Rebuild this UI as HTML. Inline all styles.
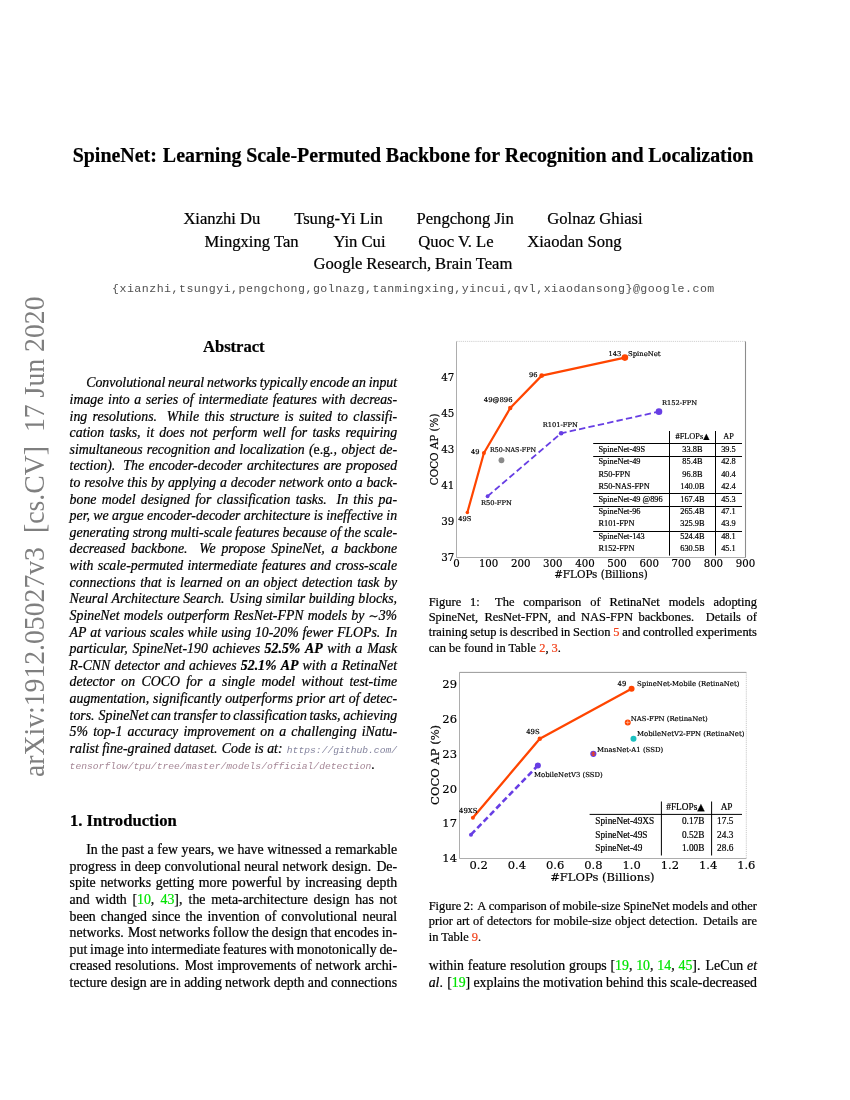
<!DOCTYPE html>
<html lang="en"><head><meta charset="utf-8"><title>SpineNet: Learning Scale-Permuted Backbone for Recognition and Localization</title>
<style>
html,body{margin:0;padding:0;background:#fff;}
body{width:850px;height:1100px;position:relative;overflow:hidden;font-family:"Liberation Serif","Times New Roman",serif;color:#000;}
.l{position:absolute;white-space:pre;line-height:20px;height:20px;font-kerning:normal;-webkit-text-stroke:0.22px currentColor;}
.mono{font-family:"Liberation Mono","Courier New",monospace;-webkit-text-stroke:0;}
.up{font-style:normal;}
.url{-webkit-text-stroke:0;font-family:"Liberation Mono","Courier New",monospace;font-size:9.69px;font-style:italic;color:#85859f;}
.url2{color:#a58796;}
.sim{font-family:"DejaVu Serif",serif;font-style:normal;font-size:12px;}
.g{color:#00e400;}
.r{color:#f2401a;}
.side{position:absolute;left:0;top:0;transform-origin:0 0;white-space:pre;color:#7f7f7f;font-size:27.7px;line-height:30px;}
svg{position:absolute;left:0;top:0;}
svg text{white-space:pre;}
</style></head>
<body>
<div class="l" style="left:72.70px;top:144.80px;font-size:19.93px;font-weight:bold">SpineNet:<span style="word-spacing:1.066px"> </span>Learning<span style="word-spacing:-0.285px"> </span>Scale-Permuted<span style="word-spacing:-0.285px"> </span>Backbone<span style="word-spacing:-0.285px"> </span>for<span style="word-spacing:-0.285px"> </span>Recognition<span style="word-spacing:-0.285px"> </span>and<span style="word-spacing:-0.285px"> </span>Localization</div>
<div class="l" style="left:183.40px;top:208.80px;font-size:16.60px;">Xianzhi Du</div>
<div class="l" style="left:294.20px;top:208.80px;font-size:16.60px;">Tsung-Yi Lin</div>
<div class="l" style="left:416.50px;top:208.80px;font-size:16.60px;">Pengchong Jin</div>
<div class="l" style="left:547.30px;top:208.80px;font-size:16.60px;">Golnaz Ghiasi</div>
<div class="l" style="left:204.60px;top:231.60px;font-size:16.60px;">Mingxing Tan</div>
<div class="l" style="left:333.40px;top:231.60px;font-size:16.60px;">Yin Cui</div>
<div class="l" style="left:418.20px;top:231.60px;font-size:16.60px;">Quoc V. Le</div>
<div class="l" style="left:527.20px;top:231.60px;font-size:16.60px;">Xiaodan Song</div>
<div class="l" style="left:313.60px;top:254.40px;font-size:16.60px;">Google<span style="word-spacing:-0.359px"> </span>Research,<span style="word-spacing:-0.287px"> </span>Brain<span style="word-spacing:-0.359px"> </span>Team</div>
<div class="l mono" style="left:112.00px;top:278.70px;font-size:11.60px;letter-spacing:0.4845px;color:#505050">{xianzhi,tsungyi,pengchong,golnazg,tanmingxing,yincui,qvl,xiaodansong}@google.com</div>
<div class="l" style="left:203.00px;top:337.20px;font-size:16.60px;letter-spacing:-0.0318px;font-weight:bold">Abstract</div>
<div class="l" style="left:86.20px;top:373.45px;font-size:13.84px;font-style:italic">Convolutional<span style="word-spacing:-0.687px"> </span>neural<span style="word-spacing:-0.687px"> </span>networks<span style="word-spacing:-0.687px"> </span>typically<span style="word-spacing:-0.687px"> </span>encode<span style="word-spacing:-0.687px"> </span>an<span style="word-spacing:-0.687px"> </span>input</div>
<div class="l" style="left:69.60px;top:390.05px;font-size:13.84px;font-style:italic">image<span style="word-spacing:1.201px"> </span>into<span style="word-spacing:1.201px"> </span>a<span style="word-spacing:1.201px"> </span>series<span style="word-spacing:1.201px"> </span>of<span style="word-spacing:1.201px"> </span>intermediate<span style="word-spacing:1.201px"> </span>features<span style="word-spacing:1.201px"> </span>with<span style="word-spacing:1.201px"> </span>decreas-</div>
<div class="l" style="left:69.60px;top:406.66px;font-size:13.84px;font-style:italic">ing<span style="word-spacing:1.831px"> </span>resolutions.<span style="word-spacing:6.369px"> </span>While<span style="word-spacing:1.831px"> </span>this<span style="word-spacing:1.831px"> </span>structure<span style="word-spacing:1.831px"> </span>is<span style="word-spacing:1.831px"> </span>suited<span style="word-spacing:1.831px"> </span>to<span style="word-spacing:1.831px"> </span>classifi-</div>
<div class="l" style="left:69.60px;top:423.26px;font-size:13.84px;font-style:italic">cation<span style="word-spacing:1.815px"> </span>tasks,<span style="word-spacing:2.276px"> </span>it<span style="word-spacing:1.815px"> </span>does<span style="word-spacing:1.815px"> </span>not<span style="word-spacing:1.815px"> </span>perform<span style="word-spacing:1.815px"> </span>well<span style="word-spacing:1.815px"> </span>for<span style="word-spacing:1.815px"> </span>tasks<span style="word-spacing:1.815px"> </span>requiring</div>
<div class="l" style="left:69.60px;top:439.87px;font-size:13.84px;font-style:italic">simultaneous<span style="word-spacing:0.781px"> </span>recognition<span style="word-spacing:0.781px"> </span>and<span style="word-spacing:0.781px"> </span>localization<span style="word-spacing:0.781px"> </span>(<span class="up">e.g</span>.,<span style="word-spacing:0.985px"> </span>object<span style="word-spacing:0.781px"> </span>de-</div>
<div class="l" style="left:69.60px;top:456.47px;font-size:13.84px;font-style:italic">tection).<span style="word-spacing:4.579px"> </span>The<span style="word-spacing:1.230px"> </span>encoder-decoder<span style="word-spacing:1.230px"> </span>architectures<span style="word-spacing:1.230px"> </span>are<span style="word-spacing:1.230px"> </span>proposed</div>
<div class="l" style="left:69.60px;top:473.07px;font-size:13.84px;font-style:italic">to<span style="word-spacing:0.294px"> </span>resolve<span style="word-spacing:0.294px"> </span>this<span style="word-spacing:0.294px"> </span>by<span style="word-spacing:0.294px"> </span>applying<span style="word-spacing:0.294px"> </span>a<span style="word-spacing:0.294px"> </span>decoder<span style="word-spacing:0.294px"> </span>network<span style="word-spacing:0.294px"> </span>onto<span style="word-spacing:0.294px"> </span>a<span style="word-spacing:0.294px"> </span>back-</div>
<div class="l" style="left:69.60px;top:489.68px;font-size:13.84px;font-style:italic">bone<span style="word-spacing:1.801px"> </span>model<span style="word-spacing:1.801px"> </span>designed<span style="word-spacing:1.801px"> </span>for<span style="word-spacing:1.801px"> </span>classification<span style="word-spacing:1.801px"> </span>tasks.<span style="word-spacing:6.314px"> </span>In<span style="word-spacing:1.801px"> </span>this<span style="word-spacing:1.801px"> </span>pa-</div>
<div class="l" style="left:69.60px;top:506.28px;font-size:13.84px;font-style:italic">per,<span style="word-spacing:-0.119px"> </span>we<span style="word-spacing:-0.149px"> </span>argue<span style="word-spacing:-0.149px"> </span>encoder-decoder<span style="word-spacing:-0.149px"> </span>architecture<span style="word-spacing:-0.149px"> </span>is<span style="word-spacing:-0.149px"> </span>ineffective<span style="word-spacing:-0.149px"> </span>in</div>
<div class="l" style="left:69.60px;top:522.89px;font-size:13.84px;font-style:italic">generating<span style="word-spacing:-0.321px"> </span>strong<span style="word-spacing:-0.321px"> </span>multi-scale<span style="word-spacing:-0.321px"> </span>features<span style="word-spacing:-0.321px"> </span>because<span style="word-spacing:-0.321px"> </span>of<span style="word-spacing:-0.321px"> </span>the<span style="word-spacing:-0.321px"> </span>scale-</div>
<div class="l" style="left:69.60px;top:539.49px;font-size:13.84px;font-style:italic">decreased<span style="word-spacing:2.431px"> </span>backbone.<span style="word-spacing:8.195px"> </span>We<span style="word-spacing:2.431px"> </span>propose<span style="word-spacing:2.431px"> </span>SpineNet,<span style="word-spacing:3.051px"> </span>a<span style="word-spacing:2.431px"> </span>backbone</div>
<div class="l" style="left:69.60px;top:556.09px;font-size:13.84px;font-style:italic">with<span style="word-spacing:0.941px"> </span>scale-permuted<span style="word-spacing:0.941px"> </span>intermediate<span style="word-spacing:0.941px"> </span>features<span style="word-spacing:0.941px"> </span>and<span style="word-spacing:0.941px"> </span>cross-scale</div>
<div class="l" style="left:69.60px;top:572.70px;font-size:13.84px;font-style:italic">connections<span style="word-spacing:1.080px"> </span>that<span style="word-spacing:1.080px"> </span>is<span style="word-spacing:1.080px"> </span>learned<span style="word-spacing:1.080px"> </span>on<span style="word-spacing:1.080px"> </span>an<span style="word-spacing:1.080px"> </span>object<span style="word-spacing:1.080px"> </span>detection<span style="word-spacing:1.080px"> </span>task<span style="word-spacing:1.080px"> </span>by</div>
<div class="l" style="left:69.60px;top:589.30px;font-size:13.84px;font-style:italic">Neural<span style="word-spacing:0.082px"> </span>Architecture<span style="word-spacing:0.082px"> </span>Search.<span style="word-spacing:1.263px"> </span>Using<span style="word-spacing:0.082px"> </span>similar<span style="word-spacing:0.082px"> </span>building<span style="word-spacing:0.082px"> </span>blocks,</div>
<div class="l" style="left:69.60px;top:605.91px;font-size:13.84px;font-style:italic">SpineNet<span style="word-spacing:0.786px"> </span>models<span style="word-spacing:0.786px"> </span>outperform<span style="word-spacing:0.786px"> </span>ResNet-FPN<span style="word-spacing:0.786px"> </span>models<span style="word-spacing:0.786px"> </span>by<span style="word-spacing:0.786px"> </span><span class="sim">&sim;</span>3%</div>
<div class="l" style="left:69.60px;top:622.51px;font-size:13.84px;font-style:italic">AP<span style="word-spacing:0.274px"> </span>at<span style="word-spacing:0.274px"> </span>various<span style="word-spacing:0.274px"> </span>scales<span style="word-spacing:0.274px"> </span>while<span style="word-spacing:0.274px"> </span>using<span style="word-spacing:0.274px"> </span>10-20%<span style="word-spacing:0.274px"> </span>fewer<span style="word-spacing:0.274px"> </span>FLOPs.<span style="word-spacing:1.774px"> </span>In</div>
<div class="l" style="left:69.60px;top:639.11px;font-size:13.84px;font-style:italic">particular,<span style="word-spacing:1.453px"> </span>SpineNet-190<span style="word-spacing:1.130px"> </span>achieves<span style="word-spacing:1.130px"> </span><b>52.5%<span style="word-spacing:1.130px"> </span>AP</b><span style="word-spacing:1.130px"> </span>with<span style="word-spacing:1.130px"> </span>a<span style="word-spacing:1.130px"> </span>Mask</div>
<div class="l" style="left:69.60px;top:655.72px;font-size:13.84px;font-style:italic">R-CNN<span style="word-spacing:0.742px"> </span>detector<span style="word-spacing:0.742px"> </span>and<span style="word-spacing:0.742px"> </span>achieves<span style="word-spacing:0.742px"> </span><b>52.1%<span style="word-spacing:0.742px"> </span>AP</b><span style="word-spacing:0.742px"> </span>with<span style="word-spacing:0.742px"> </span>a<span style="word-spacing:0.742px"> </span>RetinaNet</div>
<div class="l" style="left:69.60px;top:672.32px;font-size:13.84px;font-style:italic">detector<span style="word-spacing:2.898px"> </span>on<span style="word-spacing:2.898px"> </span>COCO<span style="word-spacing:2.898px"> </span>for<span style="word-spacing:2.898px"> </span>a<span style="word-spacing:2.898px"> </span>single<span style="word-spacing:2.898px"> </span>model<span style="word-spacing:2.898px"> </span>without<span style="word-spacing:2.898px"> </span>test-time</div>
<div class="l" style="left:69.60px;top:688.93px;font-size:13.84px;font-style:italic">augmentation,<span style="word-spacing:0.421px"> </span>significantly<span style="word-spacing:0.331px"> </span>outperforms<span style="word-spacing:0.331px"> </span>prior<span style="word-spacing:0.331px"> </span>art<span style="word-spacing:0.331px"> </span>of<span style="word-spacing:0.331px"> </span>detec-</div>
<div class="l" style="left:69.60px;top:705.53px;font-size:13.84px;font-style:italic">tors.<span style="word-spacing:0.532px"> </span>SpineNet<span style="word-spacing:-0.935px"> </span>can<span style="word-spacing:-0.935px"> </span>transfer<span style="word-spacing:-0.935px"> </span>to<span style="word-spacing:-0.935px"> </span>classification<span style="word-spacing:-0.935px"> </span>tasks,<span style="word-spacing:-0.746px"> </span>achieving</div>
<div class="l" style="left:69.60px;top:722.13px;font-size:13.84px;font-style:italic">5%<span style="word-spacing:1.692px"> </span>top-1<span style="word-spacing:1.692px"> </span>accuracy<span style="word-spacing:1.692px"> </span>improvement<span style="word-spacing:1.692px"> </span>on<span style="word-spacing:1.692px"> </span>a<span style="word-spacing:1.692px"> </span>challenging<span style="word-spacing:1.692px"> </span>iNatu-</div>
<div class="l" style="left:69.60px;top:738.74px;font-size:13.84px;font-style:italic">ralist<span style="word-spacing:-0.005px"> </span>fine-grained<span style="word-spacing:-0.005px"> </span>dataset.<span style="word-spacing:0.851px"> </span>Code<span style="word-spacing:-0.005px"> </span>is<span style="word-spacing:-0.005px"> </span>at:<span style="word-spacing:0.840px"> </span><span class="url">https://github.com/</span></div>
<div class="l" style="left:69.60px;top:755.34px;font-size:13.84px;font-style:italic"><span class="url url2">tensorflow/tpu/tree/master/models/official/detection</span>.</div>
<div class="l" style="left:70.00px;top:811.20px;font-size:16.60px;font-weight:bold">1. Introduction</div>
<div class="l" style="left:86.20px;top:840.10px;font-size:13.84px;">In<span style="word-spacing:0.090px"> </span>the<span style="word-spacing:0.090px"> </span>past<span style="word-spacing:0.090px"> </span>a<span style="word-spacing:0.090px"> </span>few<span style="word-spacing:0.090px"> </span>years,<span style="word-spacing:0.121px"> </span>we<span style="word-spacing:0.090px"> </span>have<span style="word-spacing:0.090px"> </span>witnessed<span style="word-spacing:0.090px"> </span>a<span style="word-spacing:0.090px"> </span>remarkable</div>
<div class="l" style="left:69.60px;top:856.70px;font-size:13.84px;">progress<span style="word-spacing:0.265px"> </span>in<span style="word-spacing:0.265px"> </span>deep<span style="word-spacing:0.265px"> </span>convolutional<span style="word-spacing:0.265px"> </span>neural<span style="word-spacing:0.265px"> </span>network<span style="word-spacing:0.265px"> </span>design.<span style="word-spacing:1.677px"> </span>De-</div>
<div class="l" style="left:69.60px;top:873.31px;font-size:13.84px;">spite<span style="word-spacing:1.185px"> </span>networks<span style="word-spacing:1.185px"> </span>getting<span style="word-spacing:1.185px"> </span>more<span style="word-spacing:1.185px"> </span>powerful<span style="word-spacing:1.185px"> </span>by<span style="word-spacing:1.185px"> </span>increasing<span style="word-spacing:1.185px"> </span>depth</div>
<div class="l" style="left:69.60px;top:889.91px;font-size:13.84px;">and<span style="word-spacing:2.194px"> </span>width<span style="word-spacing:2.194px"> </span>[<span class="g">10</span>,<span style="word-spacing:2.747px"> </span><span class="g">43</span>],<span style="word-spacing:2.747px"> </span>the<span style="word-spacing:2.194px"> </span>meta-architecture<span style="word-spacing:2.194px"> </span>design<span style="word-spacing:2.194px"> </span>has<span style="word-spacing:2.194px"> </span>not</div>
<div class="l" style="left:69.60px;top:906.52px;font-size:13.84px;">been<span style="word-spacing:1.618px"> </span>changed<span style="word-spacing:1.618px"> </span>since<span style="word-spacing:1.618px"> </span>the<span style="word-spacing:1.618px"> </span>invention<span style="word-spacing:1.618px"> </span>of<span style="word-spacing:1.618px"> </span>convolutional<span style="word-spacing:1.618px"> </span>neural</div>
<div class="l" style="left:69.60px;top:923.12px;font-size:13.84px;">networks.<span style="word-spacing:0.657px"> </span>Most<span style="word-spacing:-0.569px"> </span>networks<span style="word-spacing:-0.569px"> </span>follow<span style="word-spacing:-0.569px"> </span>the<span style="word-spacing:-0.569px"> </span>design<span style="word-spacing:-0.569px"> </span>that<span style="word-spacing:-0.569px"> </span>encodes<span style="word-spacing:-0.569px"> </span>in-</div>
<div class="l" style="left:69.60px;top:939.72px;font-size:13.84px;">put<span style="word-spacing:-0.681px"> </span>image<span style="word-spacing:-0.681px"> </span>into<span style="word-spacing:-0.681px"> </span>intermediate<span style="word-spacing:-0.681px"> </span>features<span style="word-spacing:-0.681px"> </span>with<span style="word-spacing:-0.681px"> </span>monotonically<span style="word-spacing:-0.681px"> </span>de-</div>
<div class="l" style="left:69.60px;top:956.33px;font-size:13.84px;">creased<span style="word-spacing:0.448px"> </span>resolutions.<span style="word-spacing:2.213px"> </span>Most<span style="word-spacing:0.448px"> </span>improvements<span style="word-spacing:0.448px"> </span>of<span style="word-spacing:0.448px"> </span>network<span style="word-spacing:0.448px"> </span>archi-</div>
<div class="l" style="left:69.60px;top:972.93px;font-size:13.84px;">tecture<span style="word-spacing:-0.166px"> </span>design<span style="word-spacing:-0.166px"> </span>are<span style="word-spacing:-0.166px"> </span>in<span style="word-spacing:-0.166px"> </span>adding<span style="word-spacing:-0.166px"> </span>network<span style="word-spacing:-0.166px"> </span>depth<span style="word-spacing:-0.166px"> </span>and<span style="word-spacing:-0.166px"> </span>connections</div>
<div class="l" style="left:428.70px;top:591.90px;font-size:12.45px;">Figure<span style="word-spacing:5.722px"> </span>1:<span style="word-spacing:12.281px"> </span>The<span style="word-spacing:5.722px"> </span>comparison<span style="word-spacing:5.722px"> </span>of<span style="word-spacing:5.722px"> </span>RetinaNet<span style="word-spacing:5.722px"> </span>models<span style="word-spacing:5.722px"> </span>adopting</div>
<div class="l" style="left:428.70px;top:607.15px;font-size:12.45px;">SpineNet,<span style="word-spacing:3.191px"> </span>ResNet-FPN,<span style="word-spacing:3.191px"> </span>and<span style="word-spacing:2.545px"> </span>NAS-FPN<span style="word-spacing:2.545px"> </span>backbones.<span style="word-spacing:8.441px"> </span>Details<span style="word-spacing:2.545px"> </span>of</div>
<div class="l" style="left:428.70px;top:622.40px;font-size:12.45px;">training<span style="word-spacing:-0.348px"> </span>setup<span style="word-spacing:-0.348px"> </span>is<span style="word-spacing:-0.348px"> </span>described<span style="word-spacing:-0.348px"> </span>in<span style="word-spacing:-0.348px"> </span>Section<span style="word-spacing:-0.348px"> </span><span class="r">5</span><span style="word-spacing:-0.348px"> </span>and<span style="word-spacing:-0.348px"> </span>controlled<span style="word-spacing:-0.348px"> </span>experiments</div>
<div class="l" style="left:428.70px;top:637.65px;font-size:12.45px;">can be found in Table <span class="r">2</span>, <span class="r">3</span>.</div>
<div class="l" style="left:428.70px;top:896.00px;font-size:12.45px;">Figure<span style="word-spacing:-0.459px"> </span>2:<span style="word-spacing:0.525px"> </span>A<span style="word-spacing:-0.459px"> </span>comparison<span style="word-spacing:-0.459px"> </span>of<span style="word-spacing:-0.459px"> </span>mobile-size<span style="word-spacing:-0.459px"> </span>SpineNet<span style="word-spacing:-0.459px"> </span>models<span style="word-spacing:-0.459px"> </span>and<span style="word-spacing:-0.459px"> </span>other</div>
<div class="l" style="left:428.70px;top:911.25px;font-size:12.45px;">prior<span style="word-spacing:0.437px"> </span>art<span style="word-spacing:0.437px"> </span>of<span style="word-spacing:0.437px"> </span>detectors<span style="word-spacing:0.437px"> </span>for<span style="word-spacing:0.437px"> </span>mobile-size<span style="word-spacing:0.437px"> </span>object<span style="word-spacing:0.437px"> </span>detection.<span style="word-spacing:2.123px"> </span>Details<span style="word-spacing:0.437px"> </span>are</div>
<div class="l" style="left:428.70px;top:926.50px;font-size:12.45px;">in Table <span class="r">9</span>.</div>
<div class="l" style="left:428.70px;top:956.20px;font-size:13.84px;">within<span style="word-spacing:0.295px"> </span>feature<span style="word-spacing:0.295px"> </span>resolution<span style="word-spacing:0.295px"> </span>groups<span style="word-spacing:0.295px"> </span>[<span class="g">19</span>,<span style="word-spacing:0.376px"> </span><span class="g">10</span>,<span style="word-spacing:0.376px"> </span><span class="g">14</span>,<span style="word-spacing:0.376px"> </span><span class="g">45</span>].<span style="word-spacing:1.762px"> </span>LeCun<span style="word-spacing:0.295px"> </span><i>et</i></div>
<div class="l" style="left:428.70px;top:972.80px;font-size:13.84px;"><i>al</i>.<span style="word-spacing:0.758px"> </span>[<span class="g">19</span>]<span style="word-spacing:-0.216px"> </span>explains<span style="word-spacing:-0.216px"> </span>the<span style="word-spacing:-0.216px"> </span>motivation<span style="word-spacing:-0.216px"> </span>behind<span style="word-spacing:-0.216px"> </span>this<span style="word-spacing:-0.216px"> </span>scale-decreased</div>
<div class="side" style="left:18.2px;top:776.9px;transform:rotate(-90deg) scaleY(1.067);word-spacing:0.1px;">arXiv:1912.05027v3  [cs.CV]  17 Jun 2020</div>
<svg width="850" height="1100" viewBox="0 0 850 1100">
<style>.dj{font-family:"DejaVu Serif","Liberation Serif",serif;fill:#000;stroke:#000;stroke-width:0.18px;}.tm{font-family:"Liberation Serif","Times New Roman",serif;fill:#000;stroke:#000;stroke-width:0.2px;}</style>
<path d="M456.50 341.40V557.50H745.50" fill="none" stroke="#808080" stroke-width="0.65"/>
<path d="M745.50 341.40V557.50" fill="none" stroke="#8c8c8c" stroke-width="1.1"/>
<path d="M456.50 341.40H745.50" fill="none" stroke="#bdbdbd" stroke-width="0.7" stroke-dasharray="1.2 0.9"/>
<text class="dj" x="454.30" y="561.25" font-size="10.30" text-anchor="end">37</text>
<text class="dj" x="454.30" y="525.23" font-size="10.30" text-anchor="end">39</text>
<text class="dj" x="454.30" y="489.22" font-size="10.30" text-anchor="end">41</text>
<text class="dj" x="454.30" y="453.20" font-size="10.30" text-anchor="end">43</text>
<text class="dj" x="454.30" y="417.18" font-size="10.30" text-anchor="end">45</text>
<text class="dj" x="454.30" y="381.17" font-size="10.30" text-anchor="end">47</text>
<text class="dj" x="456.50" y="566.90" font-size="10.20" text-anchor="middle">0</text>
<text class="dj" x="488.61" y="566.90" font-size="10.20" text-anchor="middle">100</text>
<text class="dj" x="520.72" y="566.90" font-size="10.20" text-anchor="middle">200</text>
<text class="dj" x="552.83" y="566.90" font-size="10.20" text-anchor="middle">300</text>
<text class="dj" x="584.94" y="566.90" font-size="10.20" text-anchor="middle">400</text>
<text class="dj" x="617.06" y="566.90" font-size="10.20" text-anchor="middle">500</text>
<text class="dj" x="649.17" y="566.90" font-size="10.20" text-anchor="middle">600</text>
<text class="dj" x="681.28" y="566.90" font-size="10.20" text-anchor="middle">700</text>
<text class="dj" x="713.39" y="566.90" font-size="10.20" text-anchor="middle">800</text>
<text class="dj" x="745.50" y="566.90" font-size="10.20" text-anchor="middle">900</text>
<text class="dj" x="601.00" y="578.00" font-size="10.35" text-anchor="middle">#FLOPs (Billions)</text>
<text class="dj" font-size="10.35" text-anchor="middle" transform="translate(437.7 449.4) rotate(-90)">COCO AP (%)</text>
<polyline fill="none" stroke="#ff4500" stroke-width="2.2" stroke-linejoin="round" points="467.35,512.48 483.92,453.05 510.25,408.03 541.72,375.62 624.89,357.61"/>
<polyline fill="none" stroke="#673ee4" stroke-width="1.8" stroke-dasharray="6.4 3.2" points="487.58,496.27 561.15,433.24 658.96,411.63"/>
<circle cx="467.35" cy="512.48" r="1.8" fill="#ff4500"/>
<circle cx="483.92" cy="453.05" r="2.0" fill="#ff4500"/>
<circle cx="510.25" cy="408.03" r="2.2" fill="#ff4500"/>
<circle cx="541.72" cy="375.62" r="2.4" fill="#ff4500"/>
<circle cx="624.89" cy="357.61" r="3.3" fill="#ff4500"/>
<circle cx="487.58" cy="496.27" r="1.9" fill="#673ee4"/>
<circle cx="561.15" cy="433.24" r="2.3" fill="#673ee4"/>
<circle cx="658.96" cy="411.63" r="3.3" fill="#673ee4"/>
<circle cx="501.46" cy="460.25" r="2.9" fill="#8a8a8a"/>
<text class="dj" x="608.60" y="355.60" font-size="6.70" text-anchor="start">143</text>
<text class="dj" x="628.00" y="355.60" font-size="6.70" text-anchor="start" textLength="32.6" lengthAdjust="spacingAndGlyphs">SpineNet</text>
<text class="dj" x="529.00" y="376.60" font-size="6.70" text-anchor="start">96</text>
<text class="dj" x="483.80" y="401.70" font-size="6.70" text-anchor="start" textLength="28.8" lengthAdjust="spacingAndGlyphs">49@896</text>
<text class="dj" x="471.00" y="453.60" font-size="6.70" text-anchor="start">49</text>
<text class="dj" x="490.00" y="452.40" font-size="6.70" text-anchor="start" textLength="46.0" lengthAdjust="spacingAndGlyphs">R50-NAS-FPN</text>
<text class="dj" x="542.70" y="427.20" font-size="6.70" text-anchor="start">R101-FPN</text>
<text class="dj" x="662.00" y="405.00" font-size="6.70" text-anchor="start">R152-FPN</text>
<text class="dj" x="481.00" y="504.70" font-size="6.70" text-anchor="start">R50-FPN</text>
<text class="dj" x="458.30" y="520.70" font-size="6.70" text-anchor="start">49S</text>
<g stroke="#000" stroke-width="1" fill="none">
<path d="M593.2 443.5H742"/>
<path d="M593.2 456.5H742"/>
<path d="M593.2 493.5H742"/>
<path d="M593.2 506.5H742"/>
<path d="M593.2 531.5H742"/>
<path d="M669.5 431V555.6"/>
<path d="M715.5 431V555.6"/>
</g>
<text class="tm" x="692.40" y="439.00" font-size="8.30" text-anchor="middle">#FLOPs<tspan font-family="DejaVu Sans" font-size="8">&#9650;</tspan></text>
<text class="tm" x="728.60" y="439.00" font-size="8.30" text-anchor="middle">AP</text>
<text class="tm" x="598.50" y="451.80" font-size="8.30" text-anchor="start">SpineNet-49S</text>
<text class="tm" x="692.40" y="451.80" font-size="8.30" text-anchor="middle">33.8B</text>
<text class="tm" x="728.40" y="451.80" font-size="8.30" text-anchor="middle">39.5</text>
<text class="tm" x="598.50" y="463.90" font-size="8.30" text-anchor="start">SpineNet-49</text>
<text class="tm" x="692.40" y="463.90" font-size="8.30" text-anchor="middle">85.4B</text>
<text class="tm" x="728.40" y="463.90" font-size="8.30" text-anchor="middle">42.8</text>
<text class="tm" x="598.50" y="477.20" font-size="8.30" text-anchor="start">R50-FPN</text>
<text class="tm" x="692.40" y="477.20" font-size="8.30" text-anchor="middle">96.8B</text>
<text class="tm" x="728.40" y="477.20" font-size="8.30" text-anchor="middle">40.4</text>
<text class="tm" x="598.50" y="489.30" font-size="8.30" text-anchor="start">R50-NAS-FPN</text>
<text class="tm" x="692.40" y="489.30" font-size="8.30" text-anchor="middle">140.0B</text>
<text class="tm" x="728.40" y="489.30" font-size="8.30" text-anchor="middle">42.4</text>
<text class="tm" x="598.50" y="502.20" font-size="8.30" text-anchor="start">SpineNet-49 @896</text>
<text class="tm" x="692.40" y="502.20" font-size="8.30" text-anchor="middle">167.4B</text>
<text class="tm" x="728.40" y="502.20" font-size="8.30" text-anchor="middle">45.3</text>
<text class="tm" x="598.50" y="514.00" font-size="8.30" text-anchor="start">SpineNet-96</text>
<text class="tm" x="692.40" y="514.00" font-size="8.30" text-anchor="middle">265.4B</text>
<text class="tm" x="728.40" y="514.00" font-size="8.30" text-anchor="middle">47.1</text>
<text class="tm" x="598.50" y="526.00" font-size="8.30" text-anchor="start">R101-FPN</text>
<text class="tm" x="692.40" y="526.00" font-size="8.30" text-anchor="middle">325.9B</text>
<text class="tm" x="728.40" y="526.00" font-size="8.30" text-anchor="middle">43.9</text>
<text class="tm" x="598.50" y="539.00" font-size="8.30" text-anchor="start">SpineNet-143</text>
<text class="tm" x="692.40" y="539.00" font-size="8.30" text-anchor="middle">524.4B</text>
<text class="tm" x="728.40" y="539.00" font-size="8.30" text-anchor="middle">48.1</text>
<text class="tm" x="598.50" y="551.00" font-size="8.30" text-anchor="start">R152-FPN</text>
<text class="tm" x="692.40" y="551.00" font-size="8.30" text-anchor="middle">630.5B</text>
<text class="tm" x="728.40" y="551.00" font-size="8.30" text-anchor="middle">45.1</text>
<path d="M459.50 672.40V858.50H746.30" fill="none" stroke="#808080" stroke-width="0.65"/>
<path d="M746.30 672.40V858.50" fill="none" stroke="#bdbdbd" stroke-width="0.8" stroke-dasharray="1.2 0.9"/>
<path d="M459.50 672.40H746.30" fill="none" stroke="#8c8c8c" stroke-width="0.9"/>
<text class="dj" x="457.00" y="861.70" font-size="11.50" text-anchor="end">14</text>
<text class="dj" x="457.00" y="827.41" font-size="11.50" text-anchor="end">17</text>
<text class="dj" x="457.00" y="792.51" font-size="11.50" text-anchor="end">20</text>
<text class="dj" x="457.00" y="757.62" font-size="11.50" text-anchor="end">23</text>
<text class="dj" x="457.00" y="722.72" font-size="11.50" text-anchor="end">26</text>
<text class="dj" x="457.00" y="687.83" font-size="11.50" text-anchor="end">29</text>
<text class="dj" x="478.62" y="869.40" font-size="11.50" text-anchor="middle">0.2</text>
<text class="dj" x="516.86" y="869.40" font-size="11.50" text-anchor="middle">0.4</text>
<text class="dj" x="555.10" y="869.40" font-size="11.50" text-anchor="middle">0.6</text>
<text class="dj" x="593.34" y="869.40" font-size="11.50" text-anchor="middle">0.8</text>
<text class="dj" x="631.58" y="869.40" font-size="11.50" text-anchor="middle">1.0</text>
<text class="dj" x="669.82" y="869.40" font-size="11.50" text-anchor="middle">1.2</text>
<text class="dj" x="708.06" y="869.40" font-size="11.50" text-anchor="middle">1.4</text>
<text class="dj" x="746.30" y="869.40" font-size="11.50" text-anchor="middle">1.6</text>
<text class="dj" x="602.40" y="881.00" font-size="11.55" text-anchor="middle">#FLOPs (Billions)</text>
<text class="dj" font-size="11.55" text-anchor="middle" transform="translate(439.0 764.9) rotate(-90)">COCO AP (%)</text>
<polyline fill="none" stroke="#ff4500" stroke-width="2.3" stroke-linejoin="round" points="472.88,817.79 539.80,738.70 631.58,688.68"/>
<polyline fill="none" stroke="#673ee4" stroke-width="2.6" stroke-dasharray="5.9 3.2" points="470.97,834.66 537.89,765.45"/>
<circle cx="472.88" cy="817.79" r="2.0" fill="#ff4500"/>
<circle cx="539.80" cy="738.70" r="2.2" fill="#ff4500"/>
<circle cx="631.58" cy="688.68" r="3.0" fill="#ff4500"/>
<circle cx="470.97" cy="834.66" r="2.0" fill="#673ee4"/>
<circle cx="537.89" cy="765.45" r="3.0" fill="#673ee4"/>
<circle cx="593.34" cy="753.82" r="3.1" fill="#673ee4"/>
<path d="M593.34 751.62v4.4M591.14 753.82h4.4M591.84 752.32h3M591.84 755.32h3" stroke="#ff4500" stroke-width="0.8" fill="none"/>
<circle cx="627.76" cy="722.41" r="3.0" fill="#ff4500"/>
<path d="M627.76 720.41v4M625.76 722.41h4" stroke="#ffc0a8" stroke-width="0.7" fill="none"/>
<circle cx="633.49" cy="738.70" r="3.0" fill="#1cc0c0"/>
<text class="dj" x="617.60" y="685.70" font-size="6.90" text-anchor="start">49</text>
<text class="dj" x="637.00" y="685.70" font-size="6.90" text-anchor="start">SpineNet-Mobile (RetinaNet)</text>
<text class="dj" x="630.80" y="720.70" font-size="6.90" text-anchor="start">NAS-FPN (RetinaNet)</text>
<text class="dj" x="637.00" y="736.30" font-size="6.90" text-anchor="start">MobileNetV2-FPN (RetinaNet)</text>
<text class="dj" x="597.00" y="751.60" font-size="6.90" text-anchor="start">MnasNet-A1 (SSD)</text>
<text class="dj" x="534.00" y="777.00" font-size="6.90" text-anchor="start">MobileNetV3 (SSD)</text>
<text class="dj" x="526.20" y="733.50" font-size="6.90" text-anchor="start">49S</text>
<text class="dj" x="459.10" y="812.50" font-size="6.90" text-anchor="start">49XS</text>
<g stroke="#000" stroke-width="1" fill="none">
<path d="M589.6 814.4H742"/>
<path d="M661.4 801.5V855.5"/>
<path d="M711.6 801.5V855.5"/>
</g>
<text class="tm" x="704.60" y="809.60" font-size="9.30" text-anchor="end">#FLOPs<tspan font-family="DejaVu Sans" font-size="9.5">&#9650;</tspan></text>
<text class="tm" x="726.60" y="809.60" font-size="9.30" text-anchor="middle">AP</text>
<text class="tm" x="595.30" y="823.80" font-size="9.30" text-anchor="start">SpineNet-49XS</text>
<text class="tm" x="704.40" y="823.80" font-size="9.30" text-anchor="end">0.17B</text>
<text class="tm" x="717.10" y="823.80" font-size="9.30" text-anchor="start">17.5</text>
<text class="tm" x="595.30" y="837.50" font-size="9.30" text-anchor="start">SpineNet-49S</text>
<text class="tm" x="704.40" y="837.50" font-size="9.30" text-anchor="end">0.52B</text>
<text class="tm" x="717.10" y="837.50" font-size="9.30" text-anchor="start">24.3</text>
<text class="tm" x="595.30" y="850.60" font-size="9.30" text-anchor="start">SpineNet-49</text>
<text class="tm" x="704.40" y="850.60" font-size="9.30" text-anchor="end">1.00B</text>
<text class="tm" x="717.10" y="850.60" font-size="9.30" text-anchor="start">28.6</text>
</svg>
</body></html>
